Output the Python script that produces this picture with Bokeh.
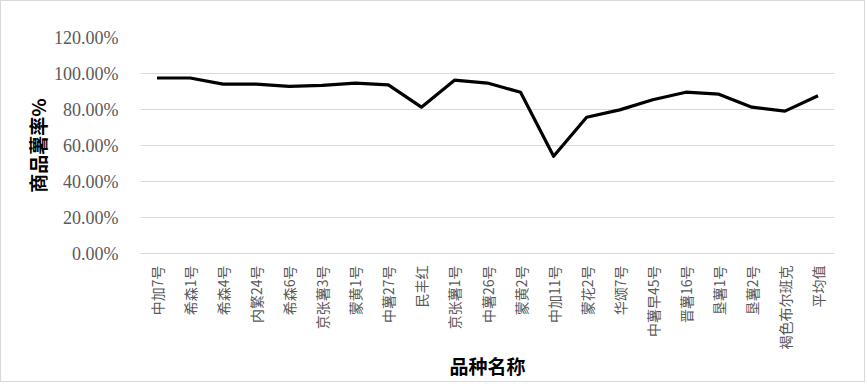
import math
from bokeh.plotting import figure
from bokeh.models import Range1d, FactorRange, NumeralTickFormatter, FixedTicker
from bokeh.embed import file_html
from bokeh.resources import INLINE

categories = ["中加7号", "希森1号", "希森4号", "内繁24号", "希森6号", "京张薯3号", "蒙黄1号",
              "中薯27号", "民丰红", "京张薯1号", "中薯26号", "蒙黄2号", "中加11号", "蒙花2号",
              "华颂7号", "中薯早45号", "晋薯16号", "垦薯1号", "垦薯2号", "褐色布尔班克", "平均值"]
values = [0.975, 0.975, 0.941, 0.941, 0.929, 0.934, 0.946, 0.937, 0.813, 0.963, 0.947,
          0.896, 0.540, 0.757, 0.798, 0.854, 0.896, 0.885, 0.813, 0.791, 0.876]
y_ticks = [0, 0.2, 0.4, 0.6, 0.8, 1.0, 1.2]
x_title = "品种名称"
y_title = "商品薯率%"

p = figure(width=865, height=382, output_backend="svg", toolbar_location=None,
           x_range=FactorRange(*categories, range_padding=0), y_range=Range1d(0, 1.2),
           min_border_left=139, min_border_right=32, min_border_top=36, min_border_bottom=130)
p.styles = {"border": "1px solid #d9d9d9"}
p.outline_line_color = None
p.background_fill_color = "white"
p.border_fill_color = "white"

p.line(categories, values, line_color="black", line_width=3.2, line_join="round")

# grid
p.xgrid.grid_line_color = None
p.ygrid.grid_line_color = "#d9d9d9"
p.ygrid.grid_line_width = 1

# y axis
p.yaxis.ticker = FixedTicker(ticks=y_ticks)
p.yaxis.formatter = NumeralTickFormatter(format="0.00%")
p.yaxis.axis_line_color = None
p.yaxis.major_tick_line_color = None
p.yaxis.minor_tick_line_color = None
p.yaxis.major_label_standoff = 16
p.yaxis.major_label_text_font = "Liberation Serif"
p.yaxis.major_label_text_font_size = "18px"
p.yaxis.major_label_text_color = "#595959"
p.yaxis.axis_label = y_title
p.yaxis.axis_label_text_font = "Noto Sans CJK SC"
p.yaxis.axis_label_text_font_style = "bold"
p.yaxis.axis_label_text_font_size = "19px"
p.yaxis.axis_label_text_color = "black"
p.yaxis.axis_label_standoff = 0

# x axis
p.xaxis.axis_line_color = "#d9d9d9"
p.xaxis.major_tick_line_color = None
p.xaxis.minor_tick_line_color = None
p.xaxis.major_label_orientation = math.pi / 2
p.xaxis.major_label_standoff = 6
p.xaxis.major_label_text_font = "Noto Sans CJK SC"
p.xaxis.major_label_text_font_size = "14px"
p.xaxis.major_label_text_color = "#595959"
p.xaxis.axis_label = x_title
p.xaxis.axis_label_text_font = "Noto Sans CJK SC"
p.xaxis.axis_label_text_font_style = "bold"
p.xaxis.axis_label_text_font_size = "19px"
p.xaxis.axis_label_text_color = "black"
p.xaxis.axis_label_standoff = 0

open("out.html", "w").write(file_html(p, INLINE))
